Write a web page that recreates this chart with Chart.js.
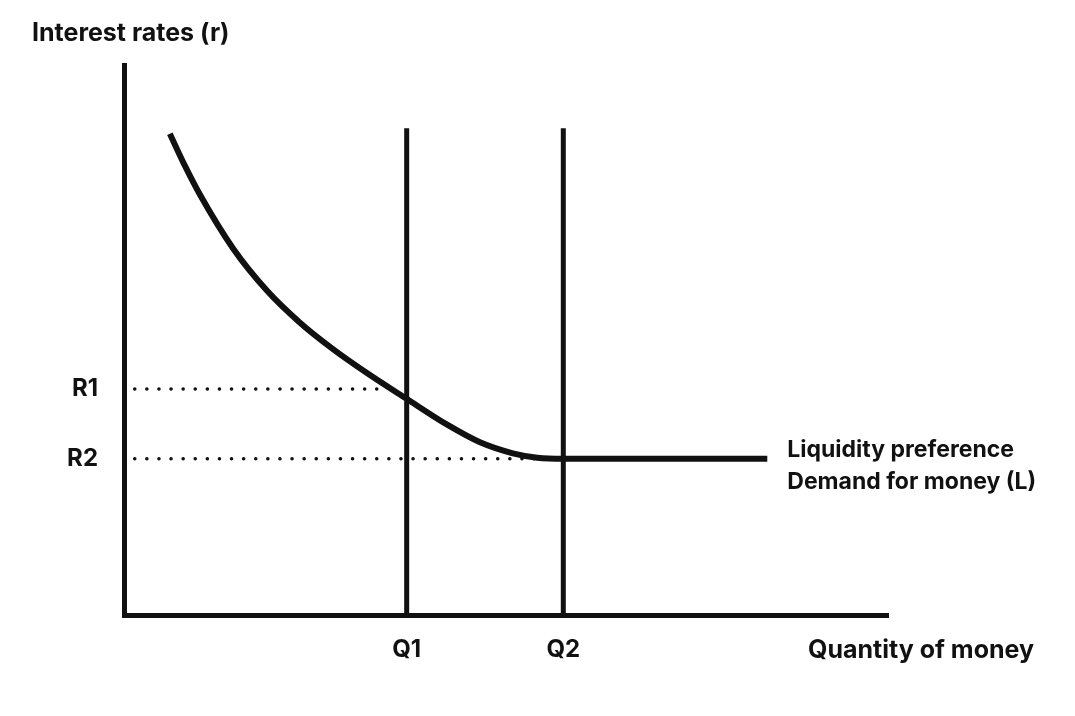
<!DOCTYPE html>
<html>
<head>
<meta charset="utf-8">
<script src="https://cdn.jsdelivr.net/npm/chart.js@4"></script>
<style>
  body { margin: 0; background: #fff; }
</style>
</head>
<body>
<canvas id="chart" width="1075" height="716"></canvas>
<script>
// money demand curve (quantity, rate)
const curveQ = [6.0, 8.0, 9.95, 14.3, 18.7, 23.0, 27.4, 31.8, 37.0, 42.3, 46.6, 50.9, 54.1, 57.5, 84.2];
const curveR = [87.5, 81.6, 76.4, 66.6, 59.0, 53.2, 48.3, 44.0, 39.3, 34.6, 31.4, 29.4, 28.6, 28.4, 28.4];

const xTickValues = [37.0, 57.5];
const xTickLabels = ['Q1', 'Q2'];
const yTickValues = [41.1, 28.4];
const yTickLabels = ['R1', 'R2'];

const supplyTop = 88.5;
const guideStart = 1.4;
const guideEnd = [33.1, 57.0];

const yTitle = 'Interest rates (r)';
const xTitle = 'Quantity of money';
const curveLabel = ['Liquidity preference', 'Demand for money (L)'];

const font = 'Inter, "Noto Sans", sans-serif';
const ink = '#111';

const curve = curveQ.map((q, i) => ({x: q, y: curveR[i]}));

const datasets = [
    {data: curve, borderWidth: 6, cubicInterpolationMode: 'monotone'},
];
xTickValues.forEach(v => {
    datasets.push({data: [{x: v, y: 0}, {x: v, y: supplyTop}], borderWidth: 5});
});
yTickValues.forEach((v, i) => {
    datasets.push({
        data: [{x: guideStart, y: v}, {x: guideEnd[i], y: v}],
        borderWidth: 3.5,
        borderDash: [0.1, 12],
        borderCapStyle: 'round',
    });
});
datasets.forEach(d => {
    d.borderColor = ink;
    d.pointRadius = 0;
    d.showLine = true;
    d.fill = false;
});

const textPlugin = {
    id: 'labels',
    afterDraw(chart) {
        const ctx = chart.ctx;
        const xs = chart.scales.x, ys = chart.scales.y;
        ctx.save();
        ctx.fillStyle = ink;
        ctx.textBaseline = 'middle';
        ctx.textAlign = 'left';
        ctx.font = '700 25px ' + font;
        ctx.fillText(yTitle, 32, 33);
        ctx.fillText(xTitle, 808, 650);
        ctx.font = '700 23px ' + font;
        const lx = xs.getPixelForValue(curveQ[curveQ.length - 1]) + 20;
        const ly = ys.getPixelForValue(curveR[curveR.length - 1]);
        ctx.fillText(curveLabel[0], lx, ly - 9);
        ctx.fillText(curveLabel[1], lx, ly + 23);
        ctx.restore();
    }
};

new Chart(document.getElementById('chart').getContext('2d'), {
    type: 'scatter',
    data: {datasets: datasets},
    plugins: [textPlugin],
    options: {
        responsive: false,
        animation: false,
        layout: {padding: {top: 65, right: 187, left: 0, bottom: 0}},
        plugins: {legend: {display: false}, tooltip: {enabled: false}},
        scales: {
            x: {
                type: 'linear', min: 0, max: 100,
                grid: {display: false, drawTicks: false},
                border: {color: ink, width: 5},
                afterFit: s => { s.height = 101; },
                afterBuildTicks: s => { s.ticks = xTickValues.map(v => ({value: v})); },
                ticks: {
                    padding: 20, color: ink,
                    font: {family: font, size: 24, weight: '700'},
                    callback: (v, i) => xTickLabels[i],
                },
            },
            y: {
                type: 'linear', min: 0, max: 100,
                grid: {display: false, drawTicks: false},
                border: {color: ink, width: 5},
                afterFit: s => { s.width = 124; },
                afterBuildTicks: s => { s.ticks = yTickValues.map(v => ({value: v})); },
                ticks: {
                    padding: 26, color: ink,
                    font: {family: font, size: 24, weight: '700'},
                    callback: (v, i) => yTickLabels[i],
                },
            },
        },
    },
});
</script>
</body>
</html>
